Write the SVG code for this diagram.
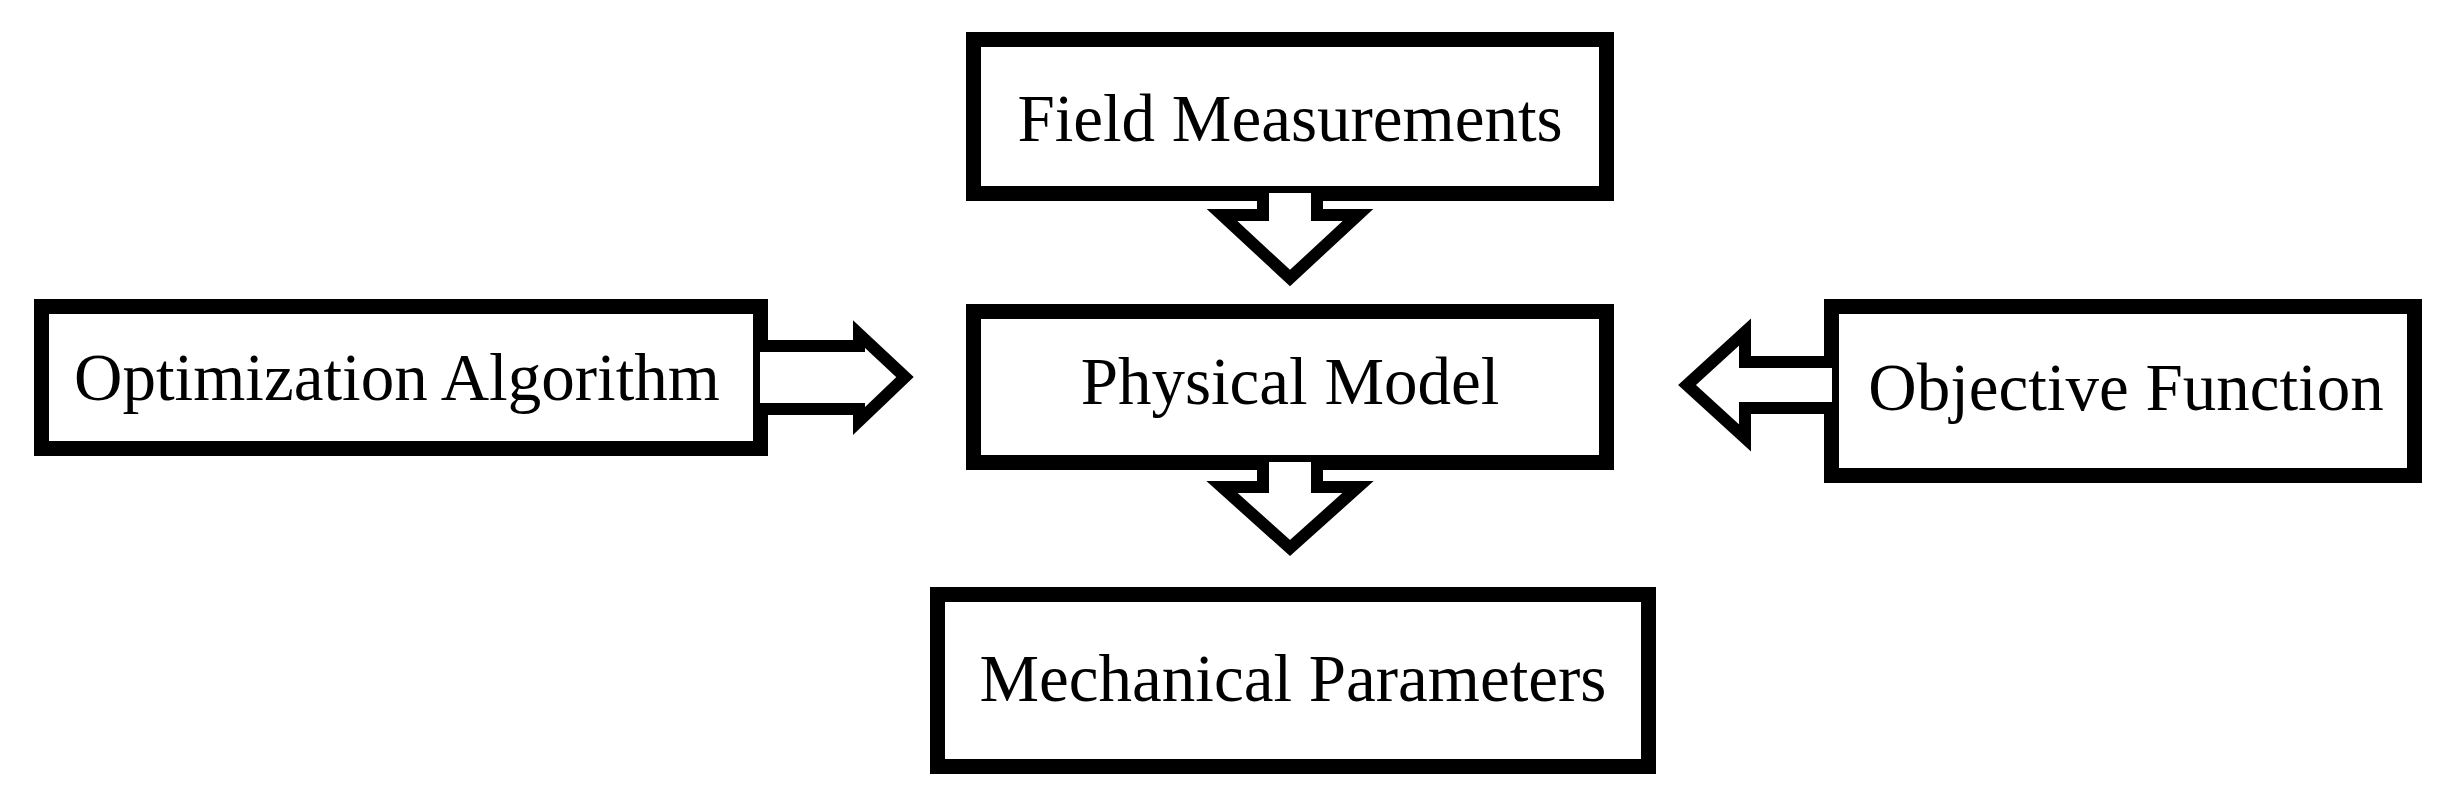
<svg xmlns="http://www.w3.org/2000/svg" width="2457" height="786" viewBox="0 0 2457 786">
<style>
.box{fill:#fff;stroke:#000;stroke-width:15}
.arr{fill:#fff;stroke:#000;stroke-width:12;stroke-linejoin:miter}
text{font-family:"Liberation Serif","Times New Roman",serif;font-size:67px;fill:#000;text-anchor:middle}
</style>
<rect width="2457" height="786" fill="#fff"/>
<g id="field"><rect class="box" x="973.5" y="39.5" width="633" height="154"/><text x="1290" y="141">Field Measurements</text></g>
<g id="physical"><rect class="box" x="973.5" y="311.5" width="633" height="151"/><text x="1290" y="404">Physical Model</text></g>
<g id="mechanical"><rect class="box" x="937.5" y="594.5" width="711" height="172"/><text x="1293" y="701">Mechanical Parameters</text></g>
<g id="optimization"><rect class="box" x="41.5" y="306.5" width="719" height="142"/><text x="397" y="400">Optimization Algorithm</text></g>
<g id="objective"><rect class="box" x="1831.5" y="306.5" width="583" height="169"/><text x="2126" y="410">Objective Function</text></g>
<g id="connectors">
<path class="arr" d="M1263,193 V215 H1222 L1290,278 L1358,215 H1317 V193"/>
<path class="arr" d="M1263,462 V487 H1222 L1290,548 L1358,487 H1317 V462"/>
<path class="arr" d="M760,346 H859 V334 L905,377 L859,421 V409 H760"/>
<path class="arr" d="M1832,362 H1745 V332 L1687,385 L1745,438 V408 H1832"/>
</g>
</svg>
